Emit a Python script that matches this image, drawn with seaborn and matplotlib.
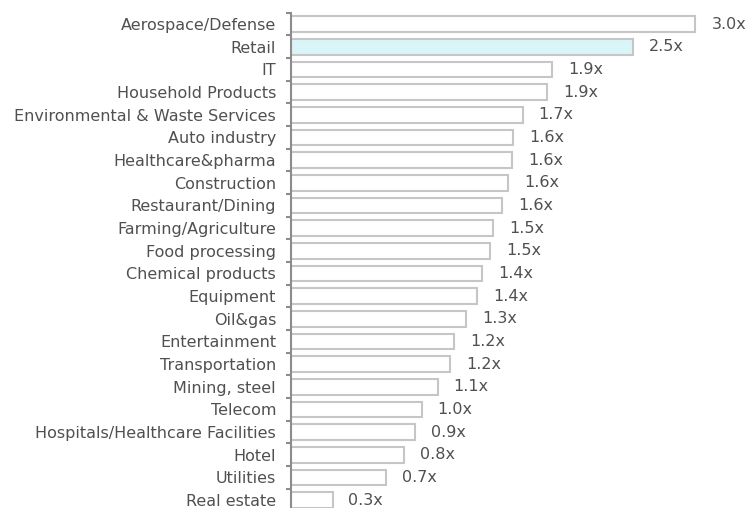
import matplotlib
matplotlib.use("Agg")
import matplotlib.pyplot as plt
import seaborn as sns
import pandas as pd
from matplotlib.ticker import FixedLocator

categories = [
    "Aerospace/Defense", "Retail", "IT", "Household Products",
    "Environmental & Waste Services", "Auto industry", "Healthcare&pharma",
    "Construction", "Restaurant/Dining", "Farming/Agriculture", "Food processing",
    "Chemical products", "Equipment", "Oil&gas", "Entertainment", "Transportation",
    "Mining, steel", "Telecom", "Hospitals/Healthcare Facilities", "Hotel",
    "Utilities", "Real estate",
]
values = [3.00, 2.54, 1.94, 1.90, 1.72, 1.65, 1.64, 1.61, 1.57, 1.50, 1.48,
          1.42, 1.38, 1.30, 1.21, 1.18, 1.09, 0.97, 0.92, 0.84, 0.71, 0.31]
highlight = "Retail"

df = pd.DataFrame({"category": categories, "value": values})
palette = {c: ("#d9f5f8" if c == highlight else "#ffffff") for c in categories}

sns.set_style("white")
plt.rcParams["font.family"] = ["DejaVu Sans"]

fig = plt.figure(figsize=(7.49, 5.08), dpi=100)
ax = fig.add_axes([290.7 / 749, -3.4 / 508, 458.6 / 749, 498.7 / 508])

sns.barplot(data=df, y="category", x="value", hue="category", palette=palette,
            order=categories, hue_order=categories, legend=False, orient="h",
            width=0.69, edgecolor="#c6c6c6", linewidth=1.5, saturation=1, ax=ax)

ax.set_xlim(0, 3.4)
ax.set_ylim(len(categories) - 0.5, -0.5)
ax.set_xlabel("")
ax.set_ylabel("")
ax.set_xticks([])

for s in ["top", "right", "bottom"]:
    ax.spines[s].set_visible(False)
ax.spines["left"].set_color("#8c8c8c")
ax.spines["left"].set_linewidth(1.5)

ax.yaxis.set_minor_locator(FixedLocator([i - 0.5 for i in range(len(categories) + 1)]))
ax.tick_params(axis="y", which="major", length=0, pad=10.5, labelsize=11.5,
               labelcolor="#505050")
ax.tick_params(axis="y", which="minor", length=3.5, width=1.5, color="#8c8c8c",
               direction="out", left=True)

for cont in ax.containers:
    ax.bar_label(cont, labels=[f"{v:.1f}x" for v in cont.datavalues],
                 padding=11.5, fontsize=11.5, color="#505050")

fig.savefig("out.png", dpi=100)
